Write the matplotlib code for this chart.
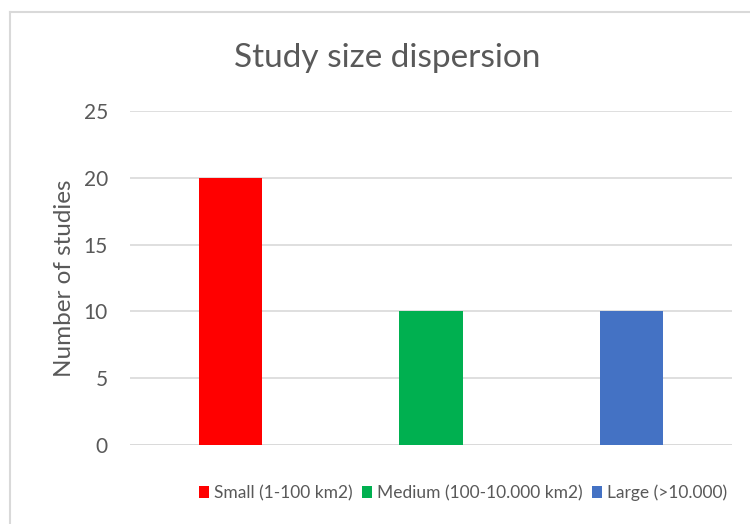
"""Study size dispersion bar chart."""

import matplotlib.pyplot as plt
from matplotlib.lines import Line2D
from matplotlib.patches import Patch

categories = ["Small (1-100 km2)", "Medium (100-10.000 km2)", "Large (>10.000)"]
counts = [20, 10, 10]
colors = ["#FF0000", "#00B050", "#4472C4"]
yticks = [0, 5, 10, 15, 20, 25]

plt.rcParams["font.family"] = ["Lato", "DejaVu Sans"]
text_color = "#595959"

fig = plt.figure(figsize=(7.5, 5.24), dpi=100)
ax = fig.add_axes([130 / 750, 1 - 445 / 524, 602 / 750, 334 / 524])

x = list(range(len(categories)))
ax.bar(x, counts, width=0.315, color=colors, zorder=3)
ax.set_xlim(-0.5, len(categories) - 0.5)
ax.set_ylim(0, 25)
ax.set_yticks(yticks)
ax.set_yticklabels([str(v) for v in yticks], fontsize=15, color=text_color)
ax.set_xticks([])
ax.tick_params(axis="y", length=0, pad=16)
ax.yaxis.grid(True, color="#D9D9D9", linewidth=1.2, zorder=0)
for s in ax.spines.values():
    s.set_visible(False)
ax.axhline(0, color="#D9D9D9", linewidth=1.2, zorder=2)

ax.set_ylabel("Number of studies", fontsize=17.5, color=text_color, labelpad=6)
fig.text(387 / 750, 1 - 58 / 524, "Study size dispersion", fontsize=24,
         color=text_color, ha="center", va="center")

handles = [Patch(facecolor=c, edgecolor="none") for c in colors]
fig.legend(handles, categories, loc="center", bbox_to_anchor=(463 / 750, 1 - 493 / 524),
           ncol=3, frameon=False, fontsize=12.5, labelcolor=text_color,
           handlelength=0.6, handleheight=0.7, handletextpad=0.3, columnspacing=0.5)

# chart area border (top and left edges visible)
fig.add_artist(Line2D([10 / 750, 10 / 750], [0, 1 - 12 / 524], color="#D9D9D9",
                      linewidth=1.5, transform=fig.transFigure))
fig.add_artist(Line2D([10 / 750, 1], [1 - 12 / 524, 1 - 12 / 524], color="#D9D9D9",
                      linewidth=1.5, transform=fig.transFigure))

fig.savefig("out.png", dpi=100)
